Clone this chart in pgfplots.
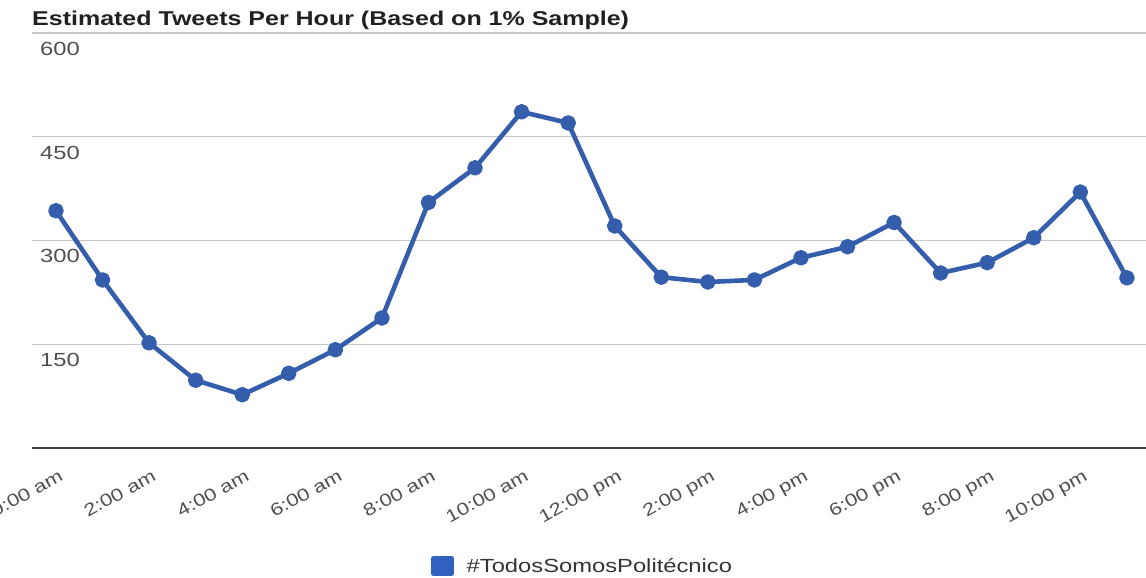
\documentclass[border=0pt]{standalone}
\usepackage{fontspec}
\setmainfont{Liberation Sans}[FakeStretch=1.25]
\usepackage{pgfplots}
\pgfplotsset{compat=1.18}
\definecolor{lineblue}{RGB}{52,94,172}
\definecolor{legblue}{RGB}{48,96,192}
\definecolor{gridgray}{RGB}{200,200,200}
\definecolor{labgray}{RGB}{80,80,80}
\begin{document}
\begin{tikzpicture}
\path[use as bounding box] (0,0) rectangle (1146bp,578bp);
\begin{axis}[
 at={(32bp,130bp)}, anchor=south west,
 scale only axis, width=1114bp, height=415bp,
 xmin=-0.515, xmax=23.41, ymin=0, ymax=600,
 separate axis lines,
 axis x line*=bottom, axis y line*=left,
 y axis line style={draw=none},
 x axis line style={-, line width=2bp, black!75},
 ymajorgrids, grid style={gridgray, line width=1.2bp},
 major tick length=0pt,
 ytick={150,300,450,600},
 xtick={0,2,...,22},
 xticklabels={0:00 am,2:00 am,4:00 am,6:00 am,8:00 am,10:00 am,12:00 pm,2:00 pm,4:00 pm,6:00 pm,8:00 pm,10:00 pm},
 /pgf/number format/assume math mode=true,
 ticklabel style={text=labgray, inner sep=0pt},
 yticklabel style={font=\fontsize{19bp}{22bp}\selectfont, anchor=north west, xshift=8bp, yshift=-9bp},
 xticklabel style={font=\fontsize{17.5bp}{20bp}\selectfont, rotate=29, anchor=north east, xshift=-8bp, yshift=-19bp},
 title={\bfseries Estimated Tweets Per Hour (Based on 1\% Sample)},
 title style={at={(0,1)}, anchor=base west, yshift=2bp, inner sep=0pt, font=\fontsize{20bp}{23bp}\selectfont, text=black!87},
 legend style={at={(0.3554,-0.284)}, anchor=west, draw=none, fill=none, font=\fontsize{19bp}{22bp}\selectfont, text=black!80},
]
\addplot[lineblue, line width=4.6bp, mark=*, mark size=5.5bp, line join=round,
  legend image code/.code={\fill[legblue] (0bp,-7.5bp) rectangle (18bp,7.5bp); \path (29bp,0bp);}]
coordinates {
(0,343) (1,243) (2,152) (3,98) (4,77) (5,108) (6,142) (7,188) (8,355) (9,405) (10,486) (11,470)
(12,321) (13,247) (14,240) (15,243) (16,275) (17,291) (18,326) (19,253) (20,268) (21,304) (22,370) (23,246)
};
\addlegendentry{\#TodosSomosPolitécnico}
\end{axis}
\end{tikzpicture}
\end{document}
